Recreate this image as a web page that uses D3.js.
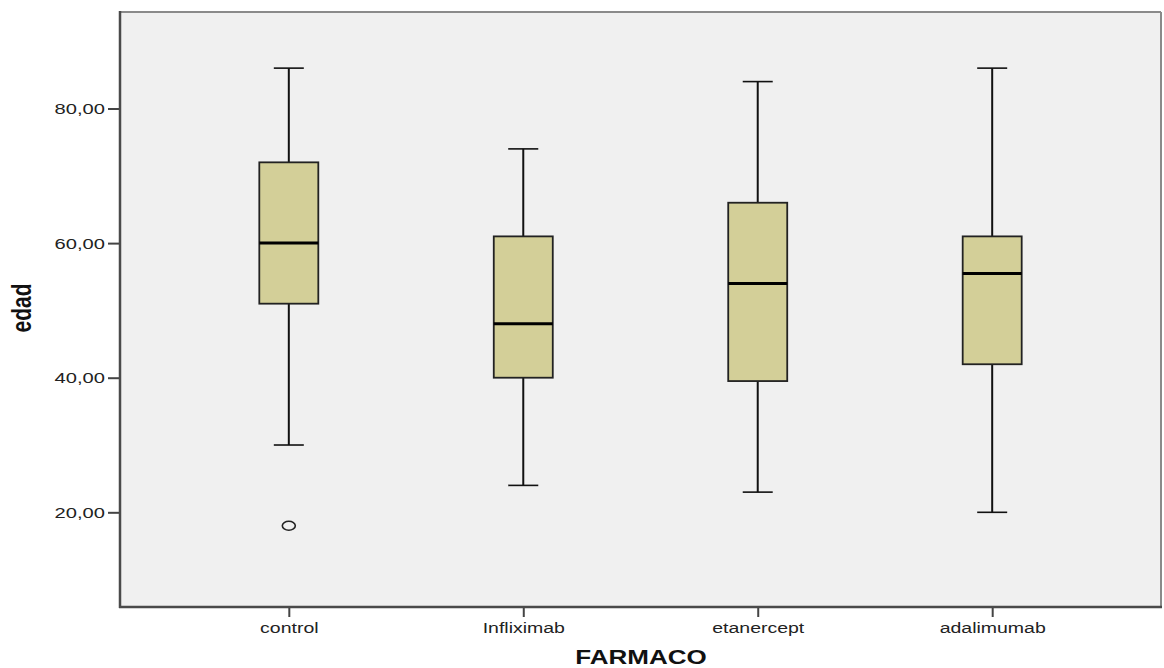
<!DOCTYPE html>
<html><head><meta charset="utf-8">
<script src="https://cdn.jsdelivr.net/npm/d3@7"></script>
<style>body{margin:0;background:#fff}svg{display:block}text{font-family:"Liberation Sans",Arial,sans-serif}</style>
</head><body><svg id="c" width="1164" height="668"></svg>
<script>
const categories = ["control","Infliximab","etanercept","adalimumab"];
const whiskerHigh = [86, 74, 84, 86];
const q3 = [72, 61, 66, 61];
const median = [60, 48, 54, 55.5];
const q1 = [51, 40, 39.5, 42];
const whiskerLow = [30, 24, 23, 20];
const outliers = [{cat:"control", value:18}];
const yTicks = [20, 40, 60, 80];
const yLabel = "edad", xLabel = "FARMACO";

const svg = d3.select("#c");
const L = 120, R = 1161, T = 12, B = 607;
const SX = 1.3;
const y = d3.scaleLinear().domain([5.93, 94.34]).range([B, T]);
const x = d3.scalePoint().domain(categories).range([L, R]).padding(0.72);

svg.append("rect").attr("x",L).attr("y",T).attr("width",R-L).attr("height",B-T).attr("fill","#f0f0f0");
svg.append("line").attr("x1",L).attr("x2",R).attr("y1",T).attr("y2",T).attr("stroke","#8a8a8a").attr("stroke-width",2);
svg.append("line").attr("x1",R).attr("x2",R).attr("y1",T).attr("y2",B).attr("stroke","#8a8a8a").attr("stroke-width",2);

const fmt = v => d3.format(".2f")(v).replace(".", ",");

const yAxis = svg.append("g").attr("transform",`translate(${L},0)`)
  .call(d3.axisLeft(y).tickValues(yTicks).tickSize(12).tickSizeOuter(0).tickFormat(fmt));
yAxis.select(".domain").remove();
yAxis.selectAll(".tick line").attr("stroke","#444").attr("stroke-width",2);
yAxis.selectAll(".tick text").attr("x",0).attr("dy",null).attr("dominant-baseline","central")
  .attr("font-size",15.5).attr("fill","#222").attr("text-anchor","end")
  .attr("transform", `translate(-15,0) scale(${SX},1)`);

const xAxis = svg.append("g").attr("transform",`translate(0,${B})`)
  .call(d3.axisBottom(x).tickSize(10).tickSizeOuter(0));
xAxis.select(".domain").remove();
xAxis.selectAll(".tick line").attr("stroke","#444").attr("stroke-width",2);
xAxis.selectAll(".tick text").attr("y",0).attr("dy",null)
  .attr("font-size",15).attr("fill","#222").attr("text-anchor","middle")
  .attr("transform", `translate(0,26) scale(${SX},1)`);

svg.append("line").attr("x1",L).attr("x2",L).attr("y1",T-1).attr("y2",B+1).attr("stroke","#4a4a4a").attr("stroke-width",2.5);
svg.append("line").attr("x1",L-1).attr("x2",R+1).attr("y1",B).attr("y2",B).attr("stroke","#4a4a4a").attr("stroke-width",2.5);

const boxW = 59, capW = 30;
const g = svg.append("g");
categories.forEach((c,i) => {
  const cx = x(c);
  g.append("line").attr("x1",cx).attr("x2",cx).attr("y1",y(whiskerHigh[i])).attr("y2",y(q3[i])).attr("stroke","#111").attr("stroke-width",2);
  g.append("line").attr("x1",cx).attr("x2",cx).attr("y1",y(q1[i])).attr("y2",y(whiskerLow[i])).attr("stroke","#111").attr("stroke-width",2);
  g.append("line").attr("x1",cx-capW/2).attr("x2",cx+capW/2).attr("y1",y(whiskerHigh[i])).attr("y2",y(whiskerHigh[i])).attr("stroke","#111").attr("stroke-width",1.6);
  g.append("line").attr("x1",cx-capW/2).attr("x2",cx+capW/2).attr("y1",y(whiskerLow[i])).attr("y2",y(whiskerLow[i])).attr("stroke","#111").attr("stroke-width",1.6);
  g.append("rect").attr("x",cx-boxW/2).attr("y",y(q3[i])).attr("width",boxW).attr("height",y(q1[i])-y(q3[i]))
    .attr("fill","#d3cf98").attr("stroke","#222").attr("stroke-width",1.8);
  g.append("line").attr("x1",cx-boxW/2).attr("x2",cx+boxW/2).attr("y1",y(median[i])).attr("y2",y(median[i])).attr("stroke","#000").attr("stroke-width",3);
});
outliers.forEach(o => {
  g.append("ellipse").attr("cx",x(o.cat)).attr("cy",y(o.value)).attr("rx",6.5).attr("ry",4.5)
    .attr("fill","none").attr("stroke","#222").attr("stroke-width",1.6);
});

svg.append("text").attr("font-size",20).attr("font-weight","bold").attr("fill","#111").attr("text-anchor","middle")
  .attr("transform",`translate(641,664) scale(${SX},1)`).text(xLabel);
svg.append("text").attr("font-size",21).attr("font-weight","bold").attr("fill","#111").attr("text-anchor","middle")
  .attr("transform",`translate(31,308) rotate(-90) scale(1,${SX})`).text(yLabel);
</script></body></html>
